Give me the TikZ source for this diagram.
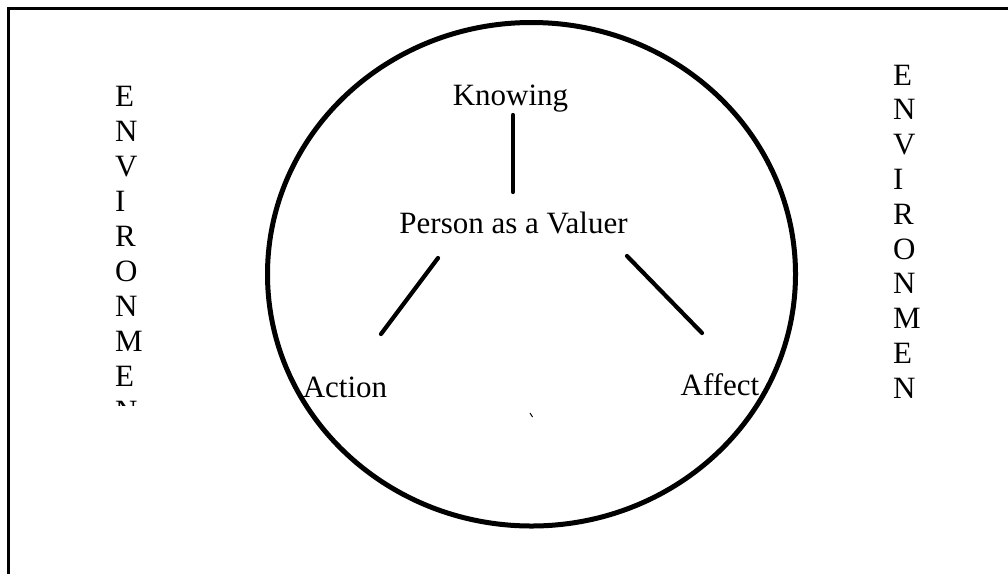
\documentclass[tikz,border=0pt]{standalone}
\usepackage{fontspec}
\setmainfont{Liberation Serif}
\begin{document}
\begin{tikzpicture}[x=1pt,y=-1pt,
  lbl/.style={inner sep=0pt,anchor=base,font=\fontsize{31}{35}\selectfont},
  letter/.style={inner sep=0pt,anchor=base west,font=\fontsize{31}{35}\selectfont},
  link/.style={line width=4.2pt,line cap=round},
  frameline/.style={line width=2.2pt}]
\useasboundingbox (0,0) rectangle (1008,574);
% frame (only top and left visible)
\coordinate (fbl) at (8.5,574);
\coordinate (ftl) at (8.5,8.5);
\coordinate (ftr) at (1008,8.5);
\draw[frameline] (fbl) -- (ftl) -- (ftr);
% circle
\draw[line width=5pt] (531.5,274.25) ellipse [x radius=264, y radius=251.75];
% labels
\node[lbl] (knowing) at (510.5,105) {Knowing};
\node[lbl] (person) at (513.5,233) {Person as a Valuer};
\node[lbl] (action) at (345,397) {Action};
\node[lbl] (affect) at (720,395) {Affect};
% connector ends
\coordinate (k1) at (513,115);
\coordinate (k2) at (513,192);
\coordinate (a1) at (438,258);
\coordinate (a2) at (381,334);
\coordinate (f1) at (627,256);
\coordinate (f2) at (702,333);
\draw[link] (k1) -- (k2);
\draw[link] (a1) -- (a2);
\draw[link] (f1) -- (f2);
% tiny mark
\coordinate (m1) at (530,413);
\coordinate (m2) at (532.5,417);
\draw[line width=1pt] (m1) -- (m2);
% left ENVIRONMENT (last letter clipped)
\begin{scope}
\clip (90,40) rectangle (170,405);
\foreach \c [count=\i from 0] in {E,N,V,I,R,O,N,M,E,N}{
  \node[letter] (l\i) at (115,106+35*\i) {\c};
}
\end{scope}
% right ENVIRONMENT
\foreach \c [count=\i from 0] in {E,N,V,I,R,O,N,M,E,N}{
  \node[letter] (r\i) at (893,85+34.8*\i) {\c};
}
\end{tikzpicture}
\end{document}
